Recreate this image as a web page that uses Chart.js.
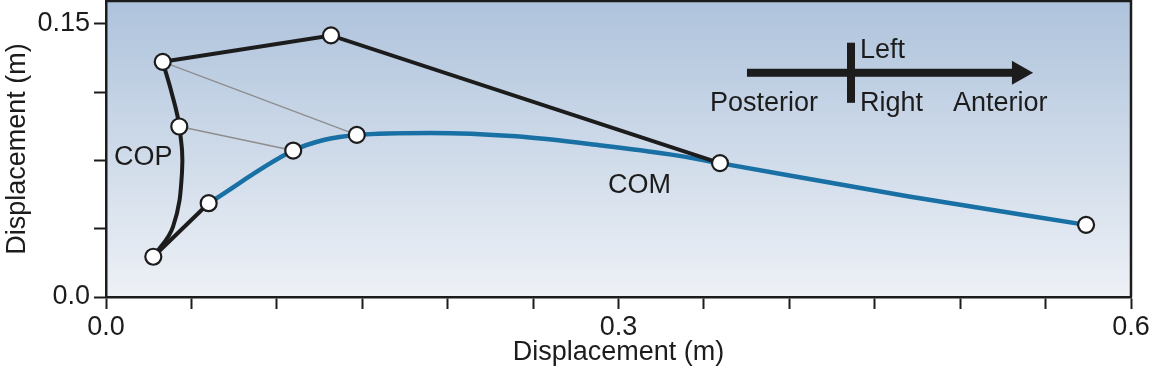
<!DOCTYPE html>
<html>
<head>
<meta charset="utf-8">
<script src="https://cdn.jsdelivr.net/npm/chart.js@4.4.1/dist/chart.umd.min.js"></script>
<style>
  html, body { margin: 0; padding: 0; background: #fff; }
  #wrap { width: 1150px; height: 377px; }
</style>
</head>
<body>
<div id="wrap"><canvas id="chart" width="1150" height="377"></canvas></div>
<script>
// axes
const xTicks = [0, 0.05, 0.1, 0.15, 0.2, 0.25, 0.3, 0.35, 0.4, 0.45, 0.5, 0.55, 0.6];
const xTickLabels = ['0.0', '', '', '', '', '', '0.3', '', '', '', '', '', '0.6'];
const yTicks = [0, 0.0375, 0.075, 0.1125, 0.15];
const yTickLabels = ['0.0', '', '', '', '0.15'];

// centre of mass path (blue)
const comX = [0.0601, 0.1096, 0.128, 0.1468, 0.19, 0.24, 0.29, 0.33, 0.3594, 0.47, 0.5737];
const comY = [0.0515, 0.0804, 0.0863, 0.0890, 0.0901, 0.0882, 0.0832, 0.0783, 0.0735, 0.0552, 0.0396];

// centre of pressure path (black curve)
const copX = [0.0277, 0.0392, 0.0445, 0.0429, 0.0385, 0.0332];
const copY = [0.0221, 0.0385, 0.0687, 0.0936, 0.1119, 0.1291];

// straight black segments
const stepX = [0.0332, 0.1317, 0.3594];
const stepY = [0.1291, 0.1436, 0.0735];
const startX = [0.0277, 0.0601];
const startY = [0.0221, 0.0515];

// thin grey links COP -> COM
const link1X = [0.0332, 0.1468];
const link1Y = [0.1291, 0.0890];
const link2X = [0.0429, 0.1096];
const link2Y = [0.0936, 0.0804];

// sampled instants (open circles)
const markX = [0.0277, 0.0429, 0.0332, 0.1317, 0.0601, 0.1096, 0.1468, 0.3594, 0.5737];
const markY = [0.0221, 0.0936, 0.1291, 0.1436, 0.0515, 0.0804, 0.0890, 0.0735, 0.0396];

const pts = (xs, ys) => xs.map((x, i) => ({ x: x, y: ys[i] }));

const FONT = '"Liberation Sans", Arial, sans-serif';
const INK = '#1c1c1c';

// gradient behind the plot area
const plotBg = {
    id: 'plotBg',
    beforeDraw(chart) {
        const { ctx, chartArea: a } = chart;
        const g = ctx.createLinearGradient(0, a.top, 0, a.bottom);
        g.addColorStop(0, '#aec3dc');
        g.addColorStop(1, '#eef1f6');
        ctx.save();
        ctx.fillStyle = g;
        ctx.fillRect(a.left, a.top, a.right - a.left, a.bottom - a.top);
        ctx.restore();
    }
};

// frame, labels and the direction key
const notes = {
    id: 'notes',
    afterDraw(chart) {
        const { ctx, chartArea: a, scales: { x, y } } = chart;
        ctx.save();
        ctx.strokeStyle = INK;
        ctx.lineWidth = 2.5;
        ctx.beginPath();
        ctx.moveTo(a.left, a.top);
        ctx.lineTo(a.right, a.top);
        ctx.lineTo(a.right, a.bottom);
        ctx.stroke();

        ctx.fillStyle = INK;
        ctx.font = '27px ' + FONT;
        ctx.textAlign = 'left';
        ctx.textBaseline = 'alphabetic';
        ctx.fillText('COP', x.getPixelForValue(0.0047), y.getPixelForValue(0.0725));
        ctx.fillText('COM', x.getPixelForValue(0.2938), y.getPixelForValue(0.0571));
        ctx.fillText('Left', x.getPixelForValue(0.4414), y.getPixelForValue(0.1313));
        ctx.fillText('Right', x.getPixelForValue(0.4414), y.getPixelForValue(0.1022));
        ctx.fillText('Posterior', x.getPixelForValue(0.3536), y.getPixelForValue(0.1022));
        ctx.fillText('Anterior', x.getPixelForValue(0.4958), y.getPixelForValue(0.1022));

        // arrow
        const ay = y.getPixelForValue(0.1231);
        const x0 = x.getPixelForValue(0.3752);
        const xHead = x.getPixelForValue(0.5303);
        const xTip = x.getPixelForValue(0.5427);
        ctx.fillRect(x0, ay - 4, xHead - x0 + 1, 8);
        ctx.beginPath();
        ctx.moveTo(xHead, ay - 12);
        ctx.lineTo(xTip, ay);
        ctx.lineTo(xHead, ay + 12);
        ctx.closePath();
        ctx.fill();
        // cross bar
        const bx = x.getPixelForValue(0.4361);
        const bTop = y.getPixelForValue(0.1396);
        const bBot = y.getPixelForValue(0.1066);
        ctx.fillRect(bx - 4, bTop, 8, bBot - bTop);
        ctx.restore();
    }
};

const ctx = document.getElementById('chart').getContext('2d');

new Chart(ctx, {
    type: 'scatter',
    data: {
        datasets: [
            {
                data: pts(markX, markY),
                showLine: false,
                pointRadius: 8,
                pointBackgroundColor: '#ffffff',
                pointBorderColor: INK,
                pointBorderWidth: 2.2,
                order: 0
            },
            {
                data: pts(stepX, stepY),
                showLine: true,
                borderColor: INK,
                borderWidth: 4,
                pointRadius: 0,
                order: 1
            },
            {
                data: pts(startX, startY),
                showLine: true,
                borderColor: INK,
                borderWidth: 4,
                pointRadius: 0,
                order: 1
            },
            {
                data: pts(copX, copY),
                showLine: true,
                borderColor: INK,
                borderWidth: 4,
                tension: 0.4,
                pointRadius: 0,
                order: 1
            },
            {
                data: pts(comX, comY),
                showLine: true,
                borderColor: '#1870a4',
                borderWidth: 4.5,
                cubicInterpolationMode: 'monotone',
                pointRadius: 0,
                order: 2
            },
            {
                data: pts(link1X, link1Y),
                showLine: true,
                borderColor: '#8e8e8e',
                borderWidth: 1.5,
                pointRadius: 0,
                order: 3
            },
            {
                data: pts(link2X, link2Y),
                showLine: true,
                borderColor: '#8e8e8e',
                borderWidth: 1.5,
                pointRadius: 0,
                order: 3
            }
        ]
    },
    options: {
        responsive: false,
        animation: false,
        layout: { autoPadding: false, padding: { top: 1, right: 19, bottom: 0, left: 0 } },
        plugins: {
            legend: { display: false },
            tooltip: { enabled: false }
        },
        scales: {
            x: {
                type: 'linear',
                min: 0,
                max: 0.6,
                afterBuildTicks: s => { s.ticks = xTicks.map(v => ({ value: v })); },
                afterFit: s => { s.height = 80; s.paddingLeft = 0; s.paddingRight = 0; },
                ticks: {
                    autoSkip: false,
                    maxRotation: 0,
                    padding: 2,
                    color: INK,
                    font: { family: FONT, size: 27 },
                    callback: (v, i) => xTickLabels[i]
                },
                grid: { drawOnChartArea: false, tickLength: 12, tickWidth: 2, tickColor: INK },
                border: { display: true, color: INK, width: 2.5 },
                title: {
                    display: true,
                    text: 'Displacement (m)',
                    color: INK,
                    font: { family: FONT, size: 27 },
                    padding: { top: 0, bottom: 8 }
                }
            },
            y: {
                type: 'linear',
                min: 0,
                max: 0.1625,
                afterBuildTicks: s => { s.ticks = yTicks.map(v => ({ value: v })); },
                afterFit: s => { s.width = 106; s.paddingTop = 0; s.paddingBottom = 0; },
                ticks: {
                    autoSkip: false,
                    padding: 4,
                    color: INK,
                    font: { family: FONT, size: 27 },
                    callback: (v, i) => yTickLabels[i]
                },
                grid: { drawOnChartArea: false, tickLength: 12, tickWidth: 2, tickColor: INK },
                border: { display: true, color: INK, width: 2.5 },
                title: {
                    display: true,
                    text: 'Displacement (m)',
                    color: INK,
                    font: { family: FONT, size: 27 },
                    padding: { top: 1, bottom: 0 }
                }
            }
        }
    },
    plugins: [plotBg, notes]
});
</script>
</body>
</html>
